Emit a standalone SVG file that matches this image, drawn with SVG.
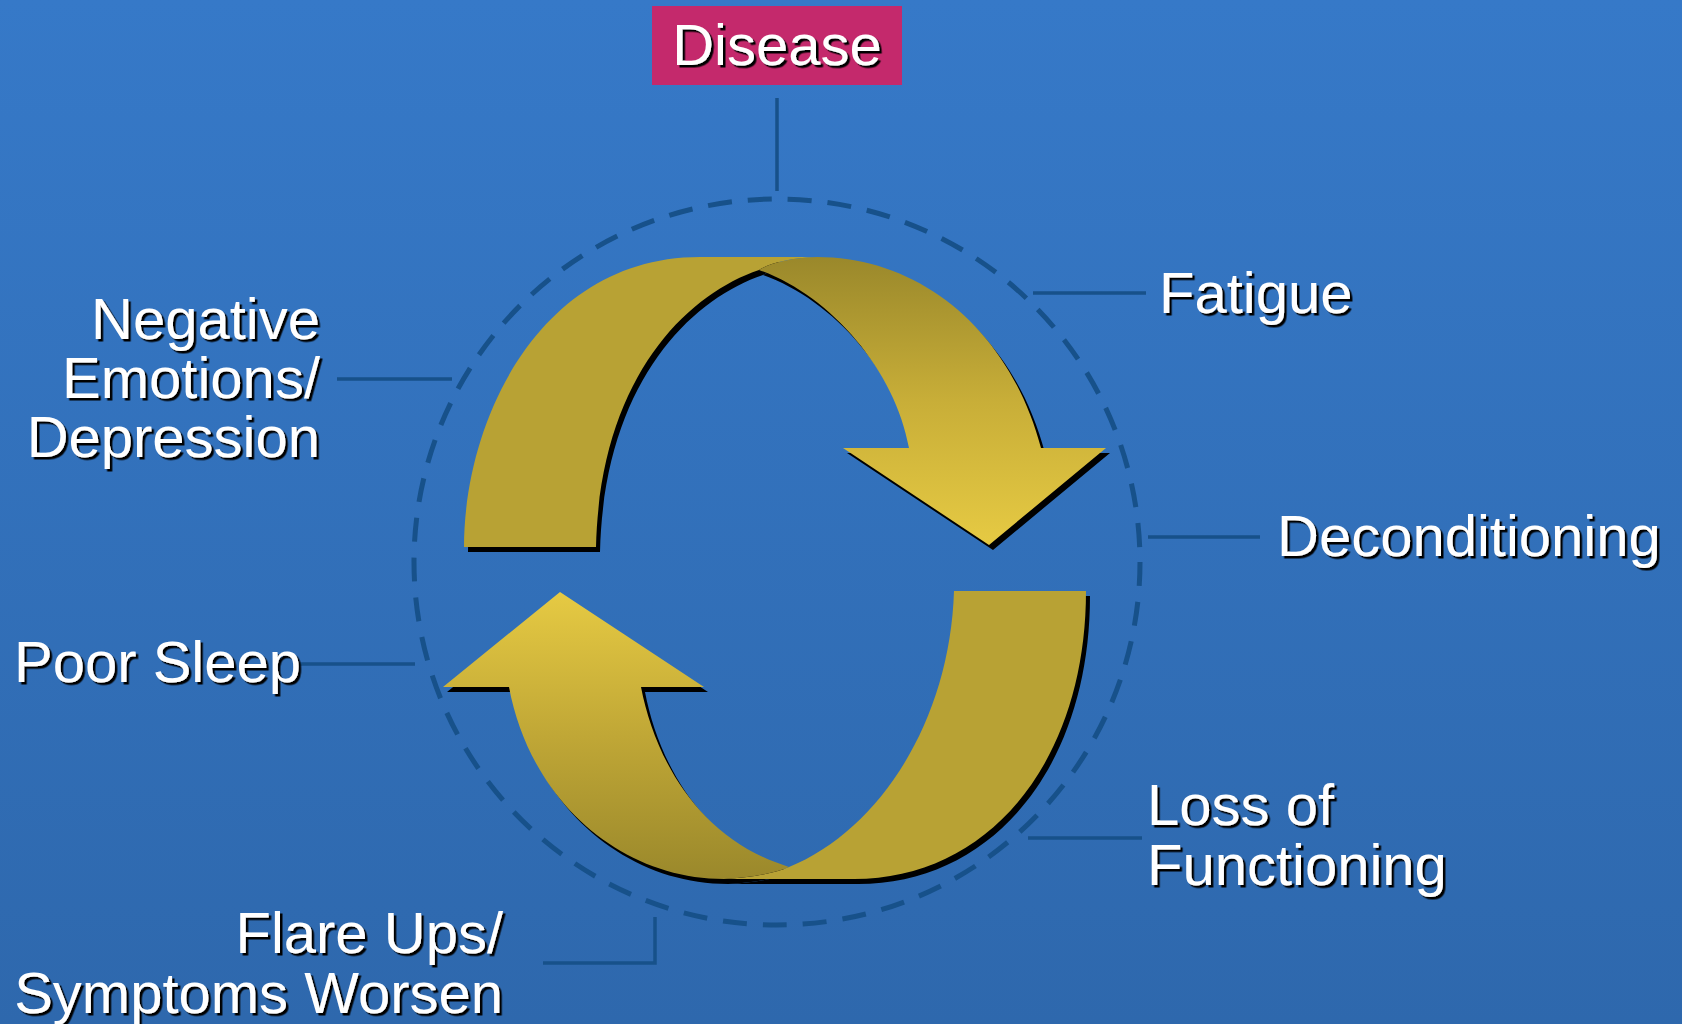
<svg xmlns="http://www.w3.org/2000/svg" width="1682" height="1024" viewBox="0 0 1682 1024">
<defs>
<linearGradient id="bg" x1="0" y1="0" x2="0" y2="1">
<stop offset="0" stop-color="#3679c8"/>
<stop offset="1" stop-color="#2e68ad"/>
</linearGradient>
<linearGradient id="gTop" gradientUnits="userSpaceOnUse" x1="0" y1="257" x2="0" y2="545">
<stop offset="0" stop-color="#9a882b"/>
<stop offset="0.5" stop-color="#c8ae38"/>
<stop offset="1" stop-color="#e6ca43"/>
</linearGradient>
<linearGradient id="gBot" gradientUnits="userSpaceOnUse" x1="0" y1="592" x2="0" y2="880">
<stop offset="0" stop-color="#e6ca43"/>
<stop offset="0.5" stop-color="#c0a736"/>
<stop offset="1" stop-color="#9a882b"/>
</linearGradient>
<filter id="ts" x="-5%" y="-20%" width="115%" height="150%">
<feDropShadow dx="2.5" dy="2.5" stdDeviation="0" flood-color="#000" flood-opacity="1"/>
</filter>
<path id="topLight" d="M 464,547 C 464,420 540,257 700,257 L 817,257 C 790,258 770,263 759,270 C 685,295 600,380 596,547 Z"/>
<path id="topDark" d="M 759,270 C 770,263 790,258 817,257 C 920,257 1010,330 1041,448 L 1106,448 L 989,545 L 843,448 L 909,448 C 895,370 830,295 759,270 Z"/>
<path id="botLight" d="M 954,591 L 1086,591 C 1086,760 990,879 854,879 L 724,879 C 750,878 775,873 789,867 C 880,830 950,720 954,591 Z"/>
<path id="botDark" d="M 789,867 C 775,873 750,878 724,879 C 620,879 530,800 509,687 L 443,687 L 560,592 L 704,687 L 641,687 C 655,760 700,840 789,867 Z"/>
</defs>
<style>
.lbl{font-family:"Liberation Sans",Arial,sans-serif;font-size:58px;fill:#ffffff;filter:url(#ts)}
.conn{stroke:#17518a;stroke-width:3.5;fill:none}
.ring{stroke:#17518a;stroke-width:5;fill:none;stroke-dasharray:24 16.014}
.light{fill:#b8a234}
.shadow{fill:#000000}
</style>
<rect x="0" y="0" width="1682" height="1024" fill="url(#bg)"/>

<g id="connectors">
<circle class="ring" cx="777" cy="562" r="363"/>
<line class="conn" x1="777" y1="98" x2="777" y2="191"/>
<line class="conn" x1="1033" y1="293" x2="1146" y2="293"/>
<line class="conn" x1="1148" y1="537" x2="1260" y2="537"/>
<line class="conn" x1="337" y1="379" x2="452" y2="379"/>
<line class="conn" x1="300" y1="664" x2="415" y2="664"/>
<line class="conn" x1="1028" y1="838" x2="1142" y2="838"/>
<polyline class="conn" points="543,963 655,963 655,917"/>
</g>

<g id="cycle-arrows">
<g transform="translate(4,5)" class="shadow">
<use href="#topLight"/>
<use href="#topDark"/>
<use href="#botLight"/>
<use href="#botDark"/>
</g>
<use href="#topLight" class="light"/>
<use href="#topDark" fill="url(#gTop)"/>
<use href="#botLight" class="light"/>
<use href="#botDark" fill="url(#gBot)"/>
</g>

<g id="node-disease">
<rect x="652" y="6" width="250" height="79" fill="#c4296c"/>
<text class="lbl" x="777" y="65" text-anchor="middle">Disease</text>
</g>
<g id="node-fatigue">
<text class="lbl" x="1159" y="313">Fatigue</text>
</g>
<g id="node-deconditioning">
<text class="lbl" x="1277" y="556">Deconditioning</text>
</g>
<g id="node-loss">
<text class="lbl" x="1147" y="825">Loss of</text>
<text class="lbl" x="1147" y="885">Functioning</text>
</g>
<g id="node-flare">
<text class="lbl" x="503" y="953" text-anchor="end">Flare Ups/</text>
<text class="lbl" x="503" y="1013" text-anchor="end">Symptoms Worsen</text>
</g>
<g id="node-sleep">
<text class="lbl" x="14" y="682">Poor Sleep</text>
</g>
<g id="node-emotions">
<text class="lbl" x="320" y="339" text-anchor="end">Negative</text>
<text class="lbl" x="320" y="398" text-anchor="end">Emotions/</text>
<text class="lbl" x="320" y="457" text-anchor="end">Depression</text>
</g>
</svg>
